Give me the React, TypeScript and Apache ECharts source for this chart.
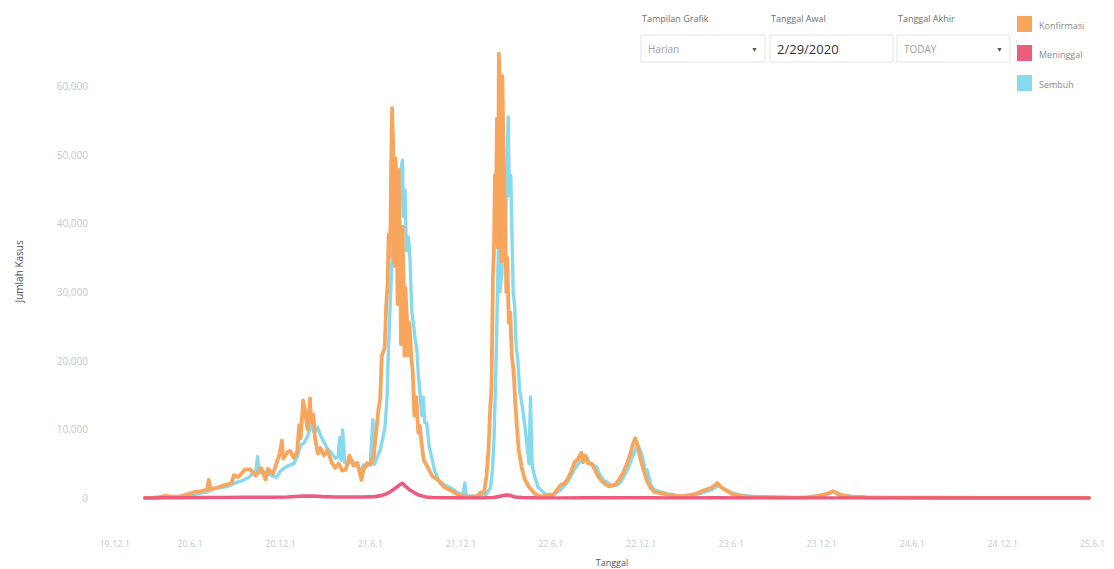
import React, { useEffect, useRef } from "react";
import * as echarts from "echarts";

// ---------------- DATA ----------------
const seriesNames = ["Konfirmasi", "Meninggal", "Sembuh"];
const seriesColors = ["#f8a55d", "#ec5c7e", "#87d9ee"];

const xTickDates = [
  "2019-12-01", "2020-06-01", "2020-12-01", "2021-06-01", "2021-12-01", "2022-06-01",
  "2022-12-01", "2023-06-01", "2023-12-01", "2024-06-01", "2024-12-01", "2025-06-01",
];
const xTickLabels = [
  "19.12.1", "20.6.1", "20.12.1", "21.6.1", "21.12.1", "22.6.1",
  "22.12.1", "23.6.1", "23.12.1", "24.6.1", "24.12.1", "25.6.1",
];
const yTicks = [0, 10000, 20000, 30000, 40000, 50000, 60000];

const konfirmasi: [string, number][] = [
  ["2020-03-02", 2], ["2020-03-16", 17], ["2020-03-30", 129], ["2020-04-13", 316], ["2020-04-27", 214],
  ["2020-05-11", 233], ["2020-05-25", 479], ["2020-06-08", 847], ["2020-06-22", 954], ["2020-07-06", 1209],
  ["2020-07-09", 2657], ["2020-07-13", 1282], ["2020-07-27", 1525], ["2020-08-10", 1893], ["2020-08-24", 2149],
  ["2020-08-29", 3308], ["2020-09-07", 3046], ["2020-09-21", 4176], ["2020-10-01", 4174], ["2020-10-12", 3267],
  ["2020-10-23", 4369], ["2020-11-01", 2696], ["2020-11-06", 4262], ["2020-11-16", 3535], ["2020-11-29", 6267],
  ["2020-12-04", 8369], ["2020-12-07", 5754], ["2020-12-16", 6725], ["2020-12-21", 6848], ["2020-12-28", 5854],
  ["2021-01-04", 6753], ["2021-01-08", 10617], ["2021-01-11", 8692], ["2021-01-16", 14224], ["2021-01-20", 12568],
  ["2021-01-25", 9994], ["2021-01-30", 14518], ["2021-02-01", 10994], ["2021-02-06", 12156], ["2021-02-09", 8700],
  ["2021-02-15", 6462], ["2021-02-20", 7300], ["2021-02-27", 6208], ["2021-03-06", 6971], ["2021-03-15", 5156],
  ["2021-03-22", 4396], ["2021-03-29", 5008], ["2021-04-05", 3965], ["2021-04-12", 4127], ["2021-04-20", 6177],
  ["2021-04-28", 4710], ["2021-05-06", 5109], ["2021-05-14", 2633], ["2021-05-18", 4108], ["2021-05-25", 5060],
  ["2021-06-01", 4824], ["2021-06-08", 6294], ["2021-06-13", 9868], ["2021-06-17", 12624], ["2021-06-21", 14536],
  ["2021-06-24", 20574], ["2021-06-27", 21342], ["2021-06-30", 21807], ["2021-07-03", 27913], ["2021-07-06", 31189],
  ["2021-07-08", 38391], ["2021-07-10", 35094], ["2021-07-12", 40427], ["2021-07-13", 47899], ["2021-07-15", 56757],
  ["2021-07-16", 54000], ["2021-07-17", 51952], ["2021-07-19", 34257], ["2021-07-20", 38325], ["2021-07-21", 33772],
  ["2021-07-22", 49509], ["2021-07-24", 45416], ["2021-07-26", 28228], ["2021-07-28", 47791], ["2021-07-31", 37284],
  ["2021-08-02", 22404], ["2021-08-05", 39532], ["2021-08-07", 31753], ["2021-08-09", 20709], ["2021-08-11", 30625],
  ["2021-08-14", 26409], ["2021-08-16", 20741], ["2021-08-19", 25500], ["2021-08-23", 20500], ["2021-08-26", 18000],
  ["2021-08-29", 12000], ["2021-09-02", 14700], ["2021-09-06", 9500], ["2021-09-09", 10500], ["2021-09-12", 8400],
  ["2021-09-17", 5500], ["2021-09-25", 4500], ["2021-10-04", 3200], ["2021-10-16", 2600], ["2021-10-28", 1600],
  ["2021-11-11", 1100], ["2021-11-25", 500], ["2021-12-08", 250], ["2021-12-22", 200], ["2022-01-03", 265],
  ["2022-01-10", 802], ["2022-01-17", 772], ["2022-01-22", 3205], ["2022-01-26", 7010], ["2022-01-29", 12422],
  ["2022-02-01", 16021], ["2022-02-04", 32211], ["2022-02-06", 36057], ["2022-02-08", 47000], ["2022-02-10", 40618],
  ["2022-02-12", 55209], ["2022-02-14", 36501], ["2022-02-16", 64718], ["2022-02-18", 59384], ["2022-02-20", 48000],
  ["2022-02-21", 34418], ["2022-02-23", 61488], ["2022-02-25", 52000], ["2022-02-27", 45000], ["2022-03-01", 40000],
  ["2022-03-03", 30000], ["2022-03-05", 35000], ["2022-03-08", 25500], ["2022-03-11", 27000], ["2022-03-14", 21000],
  ["2022-03-18", 18200], ["2022-03-21", 14000], ["2022-03-24", 10900], ["2022-03-28", 7000], ["2022-04-03", 4500],
  ["2022-04-09", 2800], ["2022-04-18", 1600], ["2022-04-30", 600], ["2022-05-11", 250], ["2022-05-24", 350],
  ["2022-06-07", 550], ["2022-06-14", 1200], ["2022-06-21", 1900], ["2022-06-28", 2100], ["2022-07-05", 2800],
  ["2022-07-12", 3800], ["2022-07-19", 5200], ["2022-07-26", 5700], ["2022-08-02", 6600], ["2022-08-05", 5200],
  ["2022-08-09", 6200], ["2022-08-16", 5000], ["2022-08-23", 5000], ["2022-08-30", 4000], ["2022-09-06", 3000],
  ["2022-09-13", 2400], ["2022-09-20", 2000], ["2022-09-27", 1700], ["2022-10-04", 1800], ["2022-10-11", 2100],
  ["2022-10-18", 2800], ["2022-10-25", 3600], ["2022-11-01", 4800], ["2022-11-08", 6200], ["2022-11-14", 7800],
  ["2022-11-19", 8700], ["2022-11-23", 7800], ["2022-11-29", 5800], ["2022-12-06", 4000], ["2022-12-13", 2400],
  ["2022-12-20", 1500], ["2022-12-27", 900], ["2023-01-10", 700], ["2023-01-24", 500], ["2023-02-07", 350],
  ["2023-02-21", 250], ["2023-03-07", 400], ["2023-03-21", 600], ["2023-04-06", 1100], ["2023-04-22", 1500],
  ["2023-05-04", 2200], ["2023-05-11", 1600], ["2023-05-20", 1200], ["2023-06-02", 600], ["2023-06-15", 400],
  ["2023-07-03", 200], ["2023-08-01", 150], ["2023-09-01", 90], ["2023-10-01", 60], ["2023-11-01", 90],
  ["2023-11-22", 300], ["2023-12-12", 600], ["2023-12-24", 1000], ["2024-01-08", 400], ["2024-01-28", 200],
  ["2024-03-01", 100], ["2024-05-01", 60], ["2024-08-01", 40], ["2024-11-01", 30], ["2025-02-01", 25],
  ["2025-05-25", 20],
];

const meninggal: [string, number][] = [
  ["2020-03-02", 0], ["2020-03-30", 15], ["2020-04-13", 45], ["2020-04-27", 30], ["2020-05-11", 25],
  ["2020-05-25", 40], ["2020-06-15", 50], ["2020-07-15", 70], ["2020-08-15", 80], ["2020-09-15", 120],
  ["2020-10-15", 110], ["2020-11-15", 100], ["2020-12-15", 150], ["2021-01-15", 280], ["2021-02-05", 300],
  ["2021-02-25", 200], ["2021-03-20", 140], ["2021-04-20", 140], ["2021-05-20", 150], ["2021-06-10", 200],
  ["2021-06-25", 380], ["2021-07-05", 650], ["2021-07-12", 950], ["2021-07-19", 1300], ["2021-07-25", 1600],
  ["2021-07-31", 1950], ["2021-08-05", 2150], ["2021-08-09", 1850], ["2021-08-13", 1600], ["2021-08-19", 1200],
  ["2021-08-26", 900], ["2021-09-02", 600], ["2021-09-10", 350], ["2021-09-22", 150], ["2021-10-05", 70],
  ["2021-10-25", 30], ["2021-11-20", 15], ["2021-12-20", 10], ["2022-01-20", 20], ["2022-02-05", 80],
  ["2022-02-15", 200], ["2022-02-25", 350], ["2022-03-04", 450], ["2022-03-11", 350], ["2022-03-21", 150],
  ["2022-04-05", 60], ["2022-05-01", 15], ["2022-06-15", 10], ["2022-08-10", 25], ["2022-09-15", 20],
  ["2022-11-15", 40], ["2022-12-20", 20], ["2023-02-01", 10], ["2023-05-01", 15], ["2023-08-01", 5],
  ["2024-01-01", 5], ["2025-05-25", 1],
];

const sembuh: [string, number][] = [
  ["2020-03-02", 0], ["2020-03-30", 8], ["2020-04-13", 40], ["2020-04-27", 120], ["2020-05-11", 150],
  ["2020-05-25", 300], ["2020-06-08", 500], ["2020-06-22", 700], ["2020-07-06", 900], ["2020-07-20", 1400],
  ["2020-08-03", 1500], ["2020-08-17", 1700], ["2020-08-31", 2200], ["2020-09-14", 2500], ["2020-09-28", 3000],
  ["2020-10-05", 3500], ["2020-10-12", 3800], ["2020-10-16", 6000], ["2020-10-19", 3600], ["2020-10-26", 3900],
  ["2020-11-09", 3400], ["2020-11-23", 3000], ["2020-12-01", 3900], ["2020-12-14", 4600], ["2020-12-28", 5000],
  ["2021-01-04", 6000], ["2021-01-11", 7700], ["2021-01-18", 8000], ["2021-01-25", 9000], ["2021-02-01", 10600],
  ["2021-02-08", 9500], ["2021-02-14", 10300], ["2021-02-21", 9000], ["2021-02-28", 8000], ["2021-03-06", 7200],
  ["2021-03-15", 6500], ["2021-03-22", 5800], ["2021-03-28", 6000], ["2021-03-31", 8800], ["2021-04-03", 5500],
  ["2021-04-06", 9900], ["2021-04-10", 5200], ["2021-04-18", 5000], ["2021-04-26", 5400], ["2021-05-04", 4800],
  ["2021-05-12", 3800], ["2021-05-18", 4800], ["2021-05-25", 4600], ["2021-06-01", 5200], ["2021-06-06", 11400],
  ["2021-06-09", 4900], ["2021-06-15", 6000], ["2021-06-21", 7000], ["2021-06-27", 9000], ["2021-07-01", 10600],
  ["2021-07-05", 15000], ["2021-07-07", 20500], ["2021-07-10", 26000], ["2021-07-14", 33600], ["2021-07-17", 36500],
  ["2021-07-21", 40000], ["2021-07-24", 44000], ["2021-07-27", 46700], ["2021-07-30", 42000], ["2021-08-02", 47900],
  ["2021-08-05", 49200], ["2021-08-07", 41000], ["2021-08-10", 44900], ["2021-08-13", 36000], ["2021-08-17", 38000],
  ["2021-08-20", 35100], ["2021-08-24", 27000], ["2021-08-27", 25500], ["2021-08-31", 23000], ["2021-09-03", 21600],
  ["2021-09-06", 18000], ["2021-09-09", 15700], ["2021-09-13", 12000], ["2021-09-16", 14700], ["2021-09-19", 11000],
  ["2021-09-23", 10900], ["2021-09-28", 7500], ["2021-10-03", 6000], ["2021-10-09", 4000], ["2021-10-17", 2600],
  ["2021-10-29", 1900], ["2021-11-12", 1400], ["2021-11-26", 700], ["2021-12-06", 500], ["2021-12-09", 2200],
  ["2021-12-12", 350], ["2021-12-26", 250], ["2022-01-09", 300], ["2022-01-20", 400], ["2022-01-30", 1500],
  ["2022-02-03", 4000], ["2022-02-06", 8400], ["2022-02-09", 16000], ["2022-02-12", 25500], ["2022-02-15", 36600],
  ["2022-02-18", 30000], ["2022-02-22", 32700], ["2022-02-26", 42400], ["2022-03-01", 38000], ["2022-03-04", 48000],
  ["2022-03-07", 55500], ["2022-03-09", 44000], ["2022-03-12", 47000], ["2022-03-14", 40000], ["2022-03-17", 30000],
  ["2022-03-20", 27800], ["2022-03-23", 22000], ["2022-03-26", 20500], ["2022-03-30", 15700], ["2022-04-03", 14000],
  ["2022-04-09", 10900], ["2022-04-15", 7000], ["2022-04-18", 5000], ["2022-04-21", 14700], ["2022-04-24", 5000],
  ["2022-04-28", 3500], ["2022-05-06", 1600], ["2022-05-20", 600], ["2022-06-05", 400], ["2022-06-21", 1200],
  ["2022-07-05", 2300], ["2022-07-19", 4200], ["2022-07-29", 5200], ["2022-08-05", 5800], ["2022-08-12", 6100],
  ["2022-08-19", 5000], ["2022-08-26", 4800], ["2022-09-02", 4500], ["2022-09-09", 3300], ["2022-09-16", 2600],
  ["2022-09-23", 2300], ["2022-09-30", 1900], ["2022-10-07", 1800], ["2022-10-14", 1900], ["2022-10-21", 2400],
  ["2022-10-28", 3300], ["2022-11-04", 4200], ["2022-11-11", 5600], ["2022-11-18", 6800], ["2022-11-24", 7700],
  ["2022-11-30", 6800], ["2022-12-06", 5200], ["2022-12-10", 3500], ["2022-12-13", 4100], ["2022-12-20", 2000],
  ["2022-12-27", 1200], ["2023-01-10", 900], ["2023-01-24", 600], ["2023-02-07", 400], ["2023-02-21", 300],
  ["2023-03-07", 350], ["2023-03-21", 500], ["2023-04-06", 800], ["2023-04-22", 1200], ["2023-05-06", 1800],
  ["2023-05-13", 1500], ["2023-05-24", 1100], ["2023-06-08", 600], ["2023-06-22", 400], ["2023-07-10", 250],
  ["2023-08-10", 150], ["2023-09-10", 100], ["2023-10-10", 60], ["2023-11-10", 100], ["2023-12-03", 300],
  ["2023-12-26", 900], ["2024-01-10", 500], ["2024-01-28", 250], ["2024-03-01", 120], ["2024-05-01", 60],
  ["2024-08-01", 40], ["2024-11-01", 30], ["2025-02-01", 25], ["2025-05-25", 20],
];

const controlLabels = ["Tampilan Grafik", "Tanggal Awal", "Tanggal Akhir"];
const controlValues = ["Harian", "2/29/2020", "TODAY"];

// ---------------- HELPERS ----------------
function toTs(s: string): number {
  const [y, m, d] = s.split("-").map(Number);
  return Date.UTC(y, m - 1, d);
}

const FONT = "'Open Sans', 'Noto Sans', sans-serif";

export default function App() {
  const ref = useRef<HTMLDivElement | null>(null);

  useEffect(() => {
    if (!ref.current) return;
    const chart = echarts.init(ref.current, undefined, { renderer: "svg" });

    const tickTs = xTickDates.map(toTs);
    const labelFor = (v: number) => {
      let best = -1;
      let bestD = Infinity;
      tickTs.forEach((t, i) => {
        const d = Math.abs(t - v);
        if (d < bestD) {
          bestD = d;
          best = i;
        }
      });
      return bestD < 86400000 ? xTickLabels[best] : "";
    };

    const lineSeries = (name: string, data: [string, number][], color: string, z: number, w: number) => ({
      type: "line",
      name,
      data: data.map(([d, v]) => [toTs(d), v]),
      showSymbol: false,
      symbol: "none",
      z,
      lineStyle: { color, width: w, join: "round", cap: "round" },
      itemStyle: { color },
      emphasis: { disabled: true },
    });

    const boxes = [
      { x: 641, w: 124, arrow: true },
      { x: 770, w: 123, arrow: false },
      { x: 897, w: 113, arrow: true },
    ];

    const graphics: any[] = [];
    boxes.forEach((b, i) => {
      graphics.push({
        type: "text",
        x: b.x + 1,
        y: 18,
        style: { text: controlLabels[i], fill: "#6f6f6f", font: `9px ${FONT}`, verticalAlign: "middle" },
      });
      graphics.push({
        type: "rect",
        shape: { x: b.x, y: 35, width: b.w, height: 27 },
        style: { fill: "#ffffff", stroke: "#e4e4e4", lineWidth: 1 },
      });
      const isDate = i === 1;
      graphics.push({
        type: "text",
        x: b.x + 7,
        y: 49,
        style: {
          text: controlValues[i],
          fill: isDate ? "#333333" : "#a0a0a0",
          font: isDate ? `13px ${FONT}` : `10px ${FONT}`,
          verticalAlign: "middle",
        },
      });
      if (b.arrow) {
        graphics.push({
          type: "text",
          x: b.x + b.w - 14,
          y: 49,
          style: { text: "▼", fill: "#555555", font: `7px ${FONT}`, verticalAlign: "middle" },
        });
      }
    });

    const legendY = [16, 45, 75];
    seriesNames.forEach((n, i) => {
      graphics.push({
        type: "rect",
        shape: { x: 1017, y: legendY[i], width: 15, height: 16 },
        style: { fill: seriesColors[i] },
      });
      graphics.push({
        type: "text",
        x: 1039,
        y: legendY[i] + 9,
        style: { text: n, fill: "#8a8a8a", font: `9px ${FONT}`, verticalAlign: "middle" },
      });
    });

    graphics.push({
      type: "text",
      x: 612,
      y: 562,
      style: { text: "Tanggal", fill: "#555560", font: `9px ${FONT}`, align: "center", verticalAlign: "middle" },
    });

    chart.setOption({
      animation: false,
      backgroundColor: "#ffffff",
      grid: { left: 94, right: 12, top: 44.8, bottom: 71, containLabel: false },
      xAxis: {
        type: "value",
        min: toTs("2019-11-20"),
        max: toTs("2025-06-20"),
        axisLine: { show: false },
        axisTick: { show: false },
        splitLine: { show: false },
        axisLabel: {
          customValues: tickTs,
          formatter: (v: number) => labelFor(v),
          color: "#c6c8d4",
          fontSize: 9,
          fontFamily: FONT,
          margin: 41,
          hideOverlap: false,
          showMinLabel: true,
          showMaxLabel: true,
          alignMinLabel: "left",
        },
      },
      yAxis: {
        type: "value",
        min: 0,
        max: 66000,
        interval: 10000,
        name: "Jumlah Kasus",
        nameLocation: "middle",
        nameRotate: 90,
        nameGap: 70,
        nameTextStyle: { color: "#4d4d5c", fontSize: 10, fontFamily: FONT },
        axisLine: { show: false },
        axisTick: { show: false },
        splitLine: { show: false },
        axisLabel: {
          showMaxLabel: false,
          color: "#c3c6d4",
          fontSize: 10,
          fontFamily: FONT,
          margin: 6,
          formatter: (v: number) => (yTicks.includes(v) ? v.toLocaleString("en-US") : ""),
        },
      },
      series: [
        lineSeries(seriesNames[2], sembuh, seriesColors[2], 2, 3.4),
        lineSeries(seriesNames[0], konfirmasi, seriesColors[0], 3, 3.8),
        lineSeries(seriesNames[1], meninggal, seriesColors[1], 4, 3.6),
      ],
      graphic: graphics,
    });

    return () => chart.dispose();
  }, []);

  return (
    <div
      ref={ref}
      style={{ position: "fixed", left: 0, top: 0, width: 1114, height: 569, background: "#fff" }}
    />
  );
}
